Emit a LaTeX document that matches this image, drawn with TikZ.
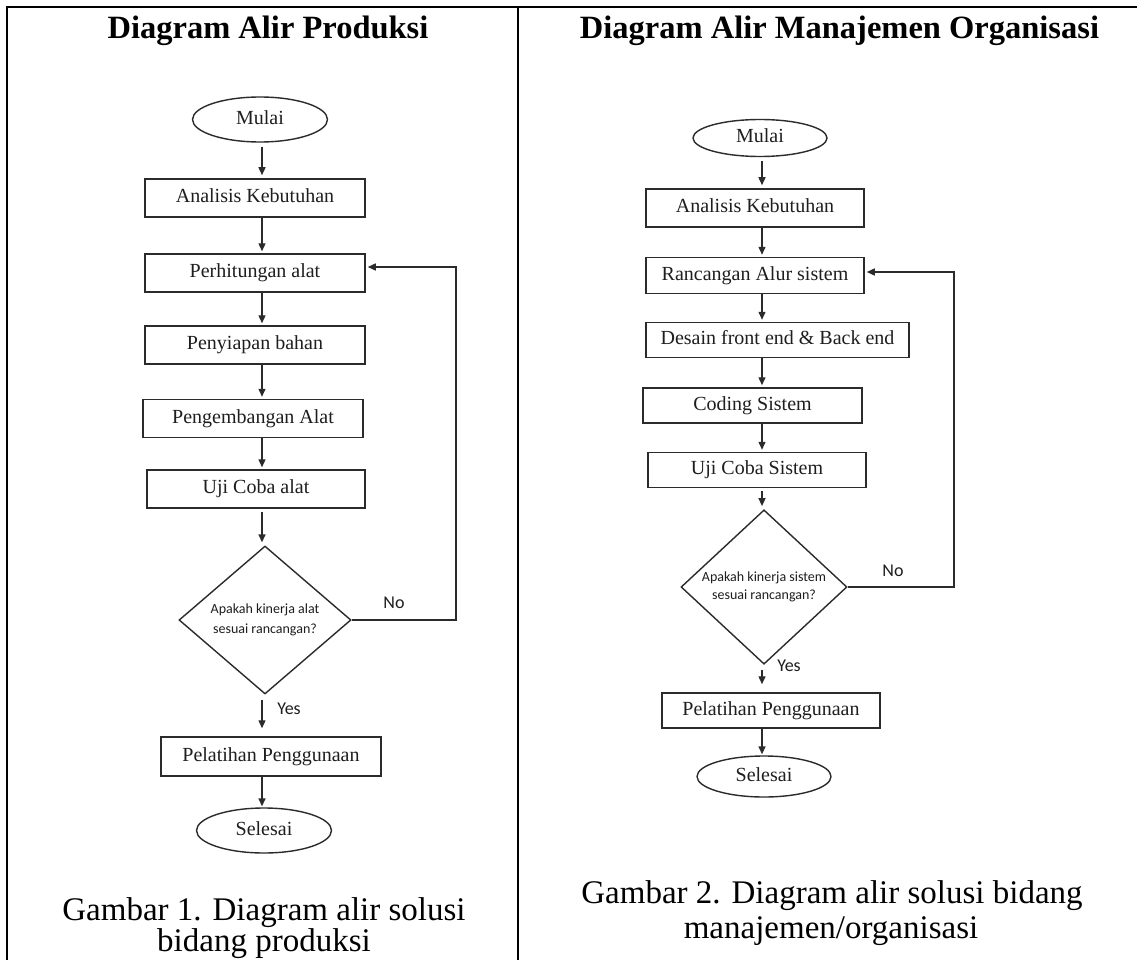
\documentclass[tikz,border=0pt]{standalone}
\usepackage{fontspec}
\setmainfont{Liberation Serif}
\newfontfamily\carl{Carlito}
\usetikzlibrary{shapes.geometric,arrows.meta,calc}
\definecolor{linec}{HTML}{2B2B2B}
\definecolor{txtc}{HTML}{1E1E1E}
\begin{document}
\begin{tikzpicture}[x=1pt,y=-1pt,
  frame/.style={draw=black, line width=2.6pt},
  proc/.style={draw=linec, line width=1.5pt, rectangle, inner sep=0pt,
    text=txtc, font=\fontsize{20}{24}\selectfont, text height=13pt, text depth=4pt},
  term/.style={draw=linec, line width=1.4pt, ellipse, inner sep=0pt,
    text=txtc, font=\fontsize{20}{24}\selectfont, text height=13pt, text depth=3pt},
  decis/.style={draw=linec, line width=1.4pt, diamond, inner sep=0pt, align=center,
    text=txtc},
  arr/.style={draw=linec, line width=1.4pt, -{Triangle[length=8pt,width=7pt]}},
  lbl/.style={text=txtc, font=\carl\fontsize{18}{20}\selectfont, inner sep=0pt},
  ttl/.style={anchor=base, inner sep=0pt, font=\fontsize{32.5}{39}\selectfont\bfseries},
  capt/.style={anchor=base, inner sep=0pt, font=\fontsize{33}{36}\selectfont},
]
\fill[white] (0,0) rectangle (1137,960);
\useasboundingbox (0,0) rectangle (1137,960);

% frame
\draw[frame] (7,960) -- (7,7) -- (1137,7);
\draw[frame] (518,7) -- (518,960);

% titles
\node[ttl] (t1) at (268,38.5) {Diagram Alir Produksi};
\node[ttl] (t2) at (839.5,38.5) {Diagram Alir Manajemen Organisasi};

% ---------------- left chart ----------------
\coordinate (cx1) at (262,0);
\node[term, minimum width=135pt, minimum height=45pt] (m1) at (260,119.5) {Mulai};
\node[proc, minimum width=220pt, minimum height=38pt] (a1) at (255,198) {Analisis Kebutuhan};
\node[proc, minimum width=220pt, minimum height=38pt] (p1) at (255,273) {Perhitungan alat};
\node[proc, minimum width=220pt, minimum height=38pt] (s1) at (255,345) {Penyiapan bahan};
\node[proc, minimum width=220pt, minimum height=38pt] (d1) at (253,418.5) {Pengembangan Alat};
\node[proc, minimum width=218pt, minimum height=38pt] (u1) at (256,489) {Uji Coba alat};
\node[decis, minimum width=172pt, minimum height=148pt,
      font=\carl\fontsize{14}{20}\selectfont] (q1) at (265,620)
      {Apakah kinerja alat\\sesuai rancangan?};
\node[proc, minimum width=220pt, minimum height=39pt] (l1) at (271,756.5) {Pelatihan Penggunaan};
\node[term, minimum width=135pt, minimum height=45pt] (e1) at (264,830.5) {Selesai};

\draw[arr, shorten <=4pt, shorten >=3pt] (m1.south -| cx1) -- (a1.north -| cx1);
\draw[arr, shorten >=2pt] (a1.south -| cx1) -- (p1.north -| cx1);
\draw[arr, shorten >=2pt] (p1.south -| cx1) -- (s1.north -| cx1);
\draw[arr, shorten >=2pt] (s1.south -| cx1) -- (d1.north -| cx1);
\draw[arr, shorten >=2pt] (d1.south -| cx1) -- (u1.north -| cx1);
\draw[arr, shorten <=3pt, shorten >=3pt] (u1.south -| cx1) -- (q1.north -| cx1);
\draw[arr, shorten <=5pt, shorten >=8pt] (q1.south -| cx1) -- (l1.north -| cx1);
\draw[arr, shorten >=1pt] (l1.south -| cx1) -- (e1.north -| cx1);

\coordinate (fb1) at (456,267);
\draw[arr, shorten >=2pt] (q1.east) -- (q1.east -| fb1) -- (fb1) -- ([yshift=6pt]p1.east);
\node[lbl] (no1) at (394,603) {No};
\node[lbl] (yes1) at (289,709) {Yes};

% ---------------- right chart ----------------
\coordinate (cx2) at (762,0);
\node[term, minimum width=134pt, minimum height=37pt] (m2) at (760,138) {Mulai};
\node[proc, minimum width=218pt, minimum height=38pt] (a2) at (755,208) {Analisis Kebutuhan};
\node[proc, minimum width=218pt, minimum height=36pt] (r2) at (755,275.5) {Rancangan Alur sistem};
\node[proc, minimum width=263pt, minimum height=35pt] (de2) at (777.5,340) {Desain front end \& Back end};
\node[proc, minimum width=219pt, minimum height=35pt] (c2) at (752.5,405.5) {Coding Sistem};
\node[proc, minimum width=218pt, minimum height=35pt] (u2) at (757,470) {Uji Coba Sistem};
\node[decis, minimum width=166pt, minimum height=131pt,
      font=\carl\fontsize{14}{18}\selectfont] (q2) at (764,587)
      {Apakah kinerja sistem\\sesuai rancangan?};
\node[proc, minimum width=218pt, minimum height=35pt] (l2) at (771,710.5) {Pelatihan Penggunaan};
\node[term, minimum width=134pt, minimum height=41pt] (e2) at (764,776.5) {Selesai};

\draw[arr, shorten <=4pt, shorten >=3pt] (m2.south -| cx2) -- (a2.north -| cx2);
\draw[arr, shorten >=2pt] (a2.south -| cx2) -- (r2.north -| cx2);
\draw[arr, shorten >=2pt] (r2.south -| cx2) -- (de2.north -| cx2);
\draw[arr, shorten >=2pt] (de2.south -| cx2) -- (c2.north -| cx2);
\draw[arr, shorten >=2pt] (c2.south -| cx2) -- (u2.north -| cx2);
\draw[arr, shorten <=3pt, shorten >=3pt] (u2.south -| cx2) -- (q2.north -| cx2);
\draw[arr, shorten <=5pt, shorten >=8pt] (q2.south -| cx2) -- (l2.north -| cx2);
\draw[arr, shorten >=1pt] (l2.south -| cx2) -- (e2.north -| cx2);

\coordinate (fb2) at (954,272);
\draw[arr, shorten >=2pt] (q2.east) -- (q2.east -| fb2) -- (fb2) -- ([yshift=3.5pt]r2.east);
\node[lbl] (no2) at (893,571) {No};
\node[lbl] (yes2) at (789,666) {Yes};

% captions
\node[capt] (c1a) at (264,920) {Gambar 1. Diagram alir solusi};
\node[capt] (c1b) at (264,951) {bidang produksi};
\node[capt] (c2a) at (832,903) {Gambar 2. Diagram alir solusi bidang};
\node[capt] (c2b) at (831,938) {manajemen/organisasi};
\end{tikzpicture}
\end{document}
